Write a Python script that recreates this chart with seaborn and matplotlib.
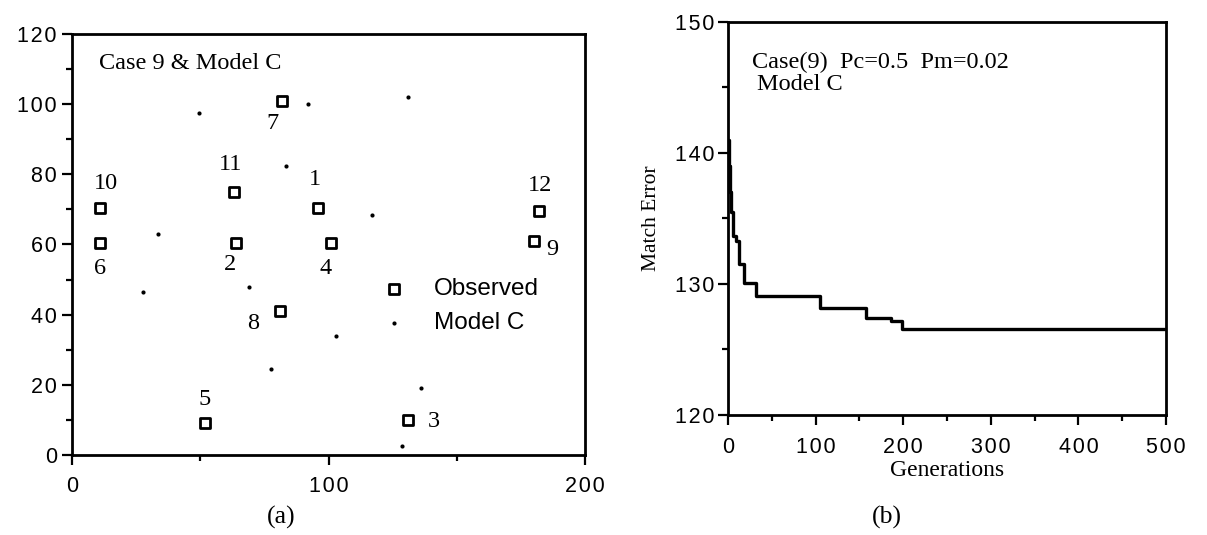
import numpy as np
import pandas as pd
import seaborn as sns
import matplotlib.pyplot as plt

# observed wells (squares) and Model C locations (dots)
obs_id = ['1', '2', '3', '4', '5', '6', '7', '8', '9', '10', '11', '12']
obs_x = [96, 64, 131, 101, 52, 11, 82, 81, 180, 11, 63, 182]
obs_y = [70.5, 60.5, 10, 60.5, 9, 60.5, 101, 41, 61, 70.5, 75, 69.5]

model_x = [49.5, 92, 131, 83.5, 117, 33.5, 27.5, 69, 103, 77.5, 136, 128.5]
model_y = [97.5, 100, 102, 82.5, 68.5, 63, 46.5, 48, 34, 24.5, 19, 2.5]

# GA convergence: best match error per generation
gen = [0, 1, 2, 3, 6, 9, 13, 18, 32, 105, 158, 186, 198, 500]
match_err = [141, 139, 137, 135.5, 133.7, 133.3, 131.5, 130.1, 129.1, 128.2, 127.4, 127.2, 126.6, 126.6]

ax1_xticks = [0, 100, 200]
ax1_yticks = [0, 20, 40, 60, 80, 100, 120]
ax2_xticks = [0, 100, 200, 300, 400, 500]
ax2_yticks = [120, 130, 140, 150]

obs = pd.DataFrame({'x': obs_x, 'y': obs_y, 'id': obs_id})
model = pd.DataFrame({'x': model_x, 'y': model_y})
conv = pd.DataFrame({'gen': gen, 'err': match_err})

sns.set_style('ticks')
plt.rcParams['font.family'] = ['Liberation Sans', 'DejaVu Sans']
plt.rcParams['text.color'] = 'black'
plt.rcParams['axes.labelcolor'] = 'black'
serif = ['Liberation Serif', 'DejaVu Serif']


def spaced(v):
    # old typesetting: digits spread apart
    return '\u200a'.join(str(v))


fig = plt.figure(figsize=(12.07, 5.35), dpi=100)
ax1 = fig.add_axes([0.0597, 0.1495, 0.425, 0.787])
ax2 = fig.add_axes([0.6032, 0.2243, 0.3629, 0.7346])

for ax in (ax1, ax2):
    for s in ax.spines.values():
        s.set_linewidth(2.0)
        s.set_color('black')
    ax.tick_params(which='major', length=7, width=1.6, colors='black', labelsize=15.5)
    ax.tick_params(which='minor', length=4, width=1.6, colors='black')

# ---- (a) well map
sns.scatterplot(data=obs, x='x', y='y', marker='s', s=45, facecolor='white',
                edgecolor='black', linewidth=2.0, label='Observed', ax=ax1, zorder=3)
sns.scatterplot(data=model, x='x', y='y', marker='o', s=9, color='black',
                linewidth=0, label='Model C', ax=ax1, zorder=3)

# label offsets in pixels from each square
label_off = [(-3, 28), (-6, -22), (26, -2), (-6, -26), (-1, 24), (0, -26),
             (-10, -23), (-27, -12), (19, -9), (6, 24), (-3, 27), (1, 26)]
for (i, r), off in zip(obs.iterrows(), label_off):
    ax1.annotate(r['id'], (r['x'], r['y']), xytext=off, textcoords='offset pixels',
                 ha='center', va='center', fontsize=17.5, family=serif)

ax1.set_xlim(0, 200)
ax1.set_ylim(0, 120)
ax1.set_xticks(ax1_xticks, [spaced(v) for v in ax1_xticks])
ax1.set_xticks([50, 150], minor=True)
ax1.set_yticks(ax1_yticks, [spaced(v) for v in ax1_yticks])
ax1.set_yticks(np.arange(10, 120, 20), minor=True)
ax1.tick_params(axis='x', pad=8)
ax1.tick_params(axis='y', pad=4)
ax1.set_xlabel('')
ax1.set_ylabel('')
ax1.text(0.052, 0.931, 'Case 9 & Model C', transform=ax1.transAxes, ha='left',
         va='center', fontsize=17.5, family=serif)
leg = ax1.legend(loc='upper left', bbox_to_anchor=(0.604, 0.42), frameon=False,
                 fontsize=17.5, handlelength=1.0, handletextpad=1.15,
                 borderpad=0, borderaxespad=0, labelspacing=0.5, markerscale=1)

# ---- (b) convergence
sns.lineplot(data=conv, x='gen', y='err', drawstyle='steps-post', color='black',
             linewidth=2.4, ax=ax2)
ax2.set_xlim(0, 500)
ax2.set_ylim(120, 150)
ax2.set_xticks(ax2_xticks, [spaced(v) for v in ax2_xticks])
ax2.set_xticks(np.arange(50, 500, 100), minor=True)
ax2.set_yticks(ax2_yticks, [spaced(v) for v in ax2_yticks])
ax2.set_yticks([125, 135, 145], minor=True)
ax2.tick_params(axis='x', pad=9)
ax2.tick_params(axis='y', pad=3)
ax2.set_xlabel('Generations', fontsize=17, family=serif, labelpad=1)
ax2.set_ylabel('Match Error', fontsize=15.5, family=serif, labelpad=10)
ax2.text(0.055, 0.896, 'Case(9)  Pc=0.5  Pm=0.02', transform=ax2.transAxes,
         ha='left', va='center', fontsize=17.5, family=serif)
ax2.text(0.066, 0.84, 'Model C', transform=ax2.transAxes, ha='left',
         va='center', fontsize=17.5, family=serif)

fig.text(0.2328, 0.0336, '(a)', ha='center', va='center', fontsize=18.5, family=serif)
fig.text(0.7349, 0.0336, '(b)', ha='center', va='center', fontsize=18.5, family=serif)

fig.savefig('out.png', dpi=100, facecolor='white')
